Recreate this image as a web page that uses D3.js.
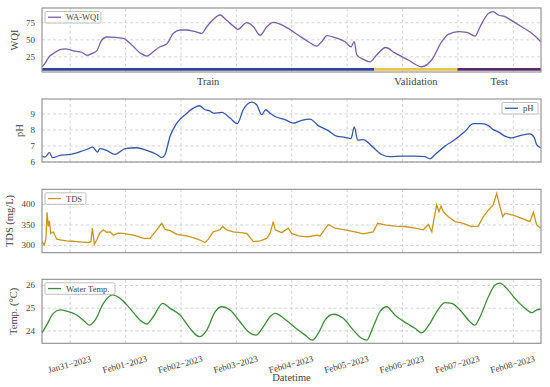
<!DOCTYPE html>
<html>
<head>
<meta charset="utf-8">
<script src="https://cdn.jsdelivr.net/npm/d3@7"></script>
<style>
  body { margin: 0; background: #fff; }
  svg { font-family: "Liberation Serif", "DejaVu Serif", serif; }
</style>
</head>
<body>
<svg id="chart" width="550" height="387"></svg>
<script>
// hours after 2023-01-30 12:00 UTC
const startTime = Date.UTC(2023, 0, 30, 12);

const wqiHours = [0, 1.3, 3.2, 4.9, 7.8, 10, 13.6, 17.2, 19.6, 21.5, 23.7, 25.9, 28, 31.6, 35.2, 38.9, 42.5, 45.4, 48.2, 51.1, 54, 56.9, 59.8, 62.7, 65.6, 69.2, 71.4, 74.2, 77.1, 80, 82.9, 84.8, 88.7, 91.6, 94.5, 97.4, 100.2, 106.7, 111, 115.4, 119, 121.2, 123.4, 127, 131.3, 133.9, 135.3, 136.4, 139.2, 142.1, 145, 148.9, 152.9, 158.7, 164.5, 168.8, 173.2, 176, 180.4, 184, 187.6, 189.8, 193.4, 195.5, 197.7, 200.6, 203.5, 207.8, 212.2, 216.1];
const wqiValues = [9.7, 14.7, 25, 29, 35, 36, 33, 31, 26.5, 29, 33, 49, 53.4, 53, 51.5, 41.6, 30, 25.4, 31.8, 39, 43, 58.8, 63.7, 63.7, 62, 58.8, 68.5, 79, 85.7, 78, 69.5, 64.7, 74.4, 68.5, 55.9, 68.5, 75, 66, 56.3, 46.5, 40, 46.5, 55.3, 52.4, 46.5, 39, 46.5, 27, 20.6, 17, 27, 38, 30, 19.6, 9.7, 19.6, 46.5, 57.3, 61.2, 60.3, 54.8, 68.5, 88, 90.6, 85.7, 83.2, 77.4, 68.5, 58.8, 46.5];

const phHours = [0, 1.3, 3.2, 4.6, 7.8, 12.1, 16.5, 19.4, 22, 24, 25.1, 28, 31.6, 36, 41, 45.4, 49.7, 51.9, 53.3, 55.5, 58.4, 62, 65.6, 68.2, 70.6, 72.5, 74.2, 77.9, 81.5, 84.6, 87.2, 90.9, 93, 95.2, 96.9, 98.8, 101, 105.3, 108.9, 112.5, 116.1, 119.7, 124, 127.7, 131.3, 133.9, 135.3, 136.8, 139.2, 142.9, 147.2, 150.8, 155.8, 161.6, 165.9, 168.1, 170.3, 174.6, 178.9, 183.3, 186.9, 190.5, 193.4, 195.5, 197.7, 200.6, 203.5, 207.8, 211.4, 213.3, 214.3, 216.1];
const phValues = [6.34, 6.28, 6.55, 6.24, 6.38, 6.44, 6.61, 6.75, 6.9, 6.59, 6.8, 6.69, 6.44, 6.8, 6.86, 6.69, 6.44, 6.24, 6.44, 7.58, 8.4, 8.92, 9.33, 9.48, 9.23, 9.17, 9.02, 9.06, 8.71, 8.36, 9.23, 9.7, 9.54, 8.92, 9.23, 9.02, 8.81, 8.61, 8.4, 8.57, 8.65, 8.24, 7.93, 7.58, 7.51, 7.43, 8.16, 7.33, 7.37, 6.96, 6.44, 6.3, 6.34, 6.34, 6.3, 6.17, 6.44, 6.96, 7.37, 7.89, 8.36, 8.36, 8.24, 7.99, 7.85, 7.58, 7.48, 7.64, 7.72, 7.48, 7.06, 6.86];

const tdsHours = [0, 1, 1.7, 2.2, 2.7, 3.2, 3.8, 4.9, 6.4, 8.5, 10.7, 13, 15, 17.5, 20.1, 21.2, 21.8, 22.7, 23.7, 25.1, 26.6, 28, 29.5, 30.9, 33, 35.2, 37.5, 39.6, 41.5, 43.9, 46.8, 49.7, 51.9, 53.3, 55.5, 58.4, 62.7, 65.5, 68.5, 70.6, 72.1, 74.2, 77.1, 78.3, 80, 82.9, 86, 88.7, 91.6, 94.5, 97.4, 98.8, 100.2, 101, 103.9, 106.7, 108.2, 111, 113, 115.4, 119, 120.5, 124, 127, 131.3, 135.6, 139.2, 143.5, 145.4, 148.6, 152.9, 157.3, 161.6, 165.2, 167.4, 168.9, 170, 171, 172, 172.9, 173.9, 176.1, 179, 181.8, 186.2, 189, 191.2, 193.4, 195.5, 197, 198, 199.6, 200.6, 204.2, 207.8, 211.4, 212.9, 214.3, 216.1];
const tdsValues = [308, 300, 316, 380, 345, 359, 328, 332, 314, 312, 310, 309, 308, 307, 306, 308, 341, 302, 312, 330, 337, 331, 332, 324, 329, 328, 326, 324, 321, 316, 316, 337, 353, 338, 335, 326, 322, 318, 312, 306, 314, 332, 337, 345, 337, 332, 330, 328, 308, 310, 316, 328, 357, 337, 330, 341, 328, 322, 321, 320, 324, 322, 350, 341, 337, 332, 327, 332, 353, 349, 346, 345, 341, 337, 350, 332, 369, 398, 381, 395, 381, 369, 357, 354, 345, 346, 369, 385, 398, 426, 402, 369, 377, 373, 365, 357, 380, 349, 341];

const tempHours = [0, 2, 4.9, 7.8, 10.7, 15, 18.6, 20.5, 23, 26.6, 30.6, 33.8, 38.1, 42.5, 45.4, 48.2, 52.3, 55.5, 59.8, 64.1, 68.2, 71.4, 75, 77.9, 81.5, 85.8, 89.4, 92.7, 95.9, 98.8, 101, 105.3, 109.6, 114, 117.1, 119.7, 122.6, 126.2, 130.5, 134.9, 138.5, 140.7, 143.5, 146.4, 149.3, 152.9, 158, 161.6, 164.5, 168.1, 171, 174.6, 177.5, 181.1, 185.4, 187.6, 189.8, 193.4, 196.3, 198.4, 201.3, 204.9, 209.3, 212.2, 214.3, 216.1];
const tempValues = [23.89, 24.23, 24.75, 24.9, 24.85, 24.68, 24.38, 24.23, 24.45, 25.19, 25.56, 25.41, 24.97, 24.45, 24.28, 24.6, 25.19, 24.97, 24.68, 24.09, 23.72, 24.01, 24.82, 25.04, 24.9, 24.38, 23.94, 23.79, 24.16, 24.6, 24.75, 24.49, 24.13, 23.79, 23.57, 23.87, 24.45, 24.71, 24.53, 24.01, 23.65, 23.57, 24.16, 24.82, 25.04, 24.68, 24.31, 24.09, 23.89, 24.31, 24.82, 25.22, 25.19, 24.9, 24.38, 24.23, 24.6, 25.48, 26, 26.08, 25.85, 25.41, 24.97, 24.78, 24.9, 24.93];

// train / validation / test split (hours)
const splitNames = ["Train", "Validation", "Test"];
const splitStart = [0, 144, 180];
const splitEnd = [144, 180, 216.2];
const splitColors = ["#2f45a0", "#e7c646", "#5b2a6d"];

const wqiTicks = [25, 50, 75];
const phTicks = [6, 7, 8, 9];
const tdsTicks = [300, 350, 400];
const tempTicks = [24, 25, 26];

const toDate = h => new Date(startTime + h * 3600e3);

const svg = d3.select('#chart');
const left = 42, right = 541;

const x = d3.scaleUtc()
    .domain([toDate(0), toDate(216.2)])
    .range([left, right]);

const dayTicks = d3.utcDay.range(new Date(Date.UTC(2023, 0, 31)), new Date(Date.UTC(2023, 1, 9)));

const panels = [
    { top: 8, bottom: 72, domain: [2, 96], ticks: wqiTicks, hours: wqiHours, values: wqiValues,
      color: '#7a5ea8', label: 'WQI', labelX: 16, legend: 'WA-WQI', legendSide: 'left', legendW: 56, curve: d3.curveMonotoneX },
    { top: 99, bottom: 162, domain: [5.97, 9.9], ticks: phTicks, hours: phHours, values: phValues,
      color: '#3656a8', label: 'pH', labelX: 21, legend: 'pH', legendSide: 'right', legendW: 36, curve: d3.curveMonotoneX },
    { top: 189.3, bottom: 252.7, domain: [281, 436], ticks: tdsTicks, hours: tdsHours, values: tdsValues,
      color: '#c8961f', label: 'TDS (mg/L)', labelX: 11, legend: 'TDS', legendSide: 'left', legendW: 41, curve: d3.curveLinear },
    { top: 279.3, bottom: 343.3, domain: [23.43, 26.25], ticks: tempTicks, hours: tempHours, values: tempValues,
      color: '#3f8a3a', label: 'Temp. (°C)', labelX: 15, legend: 'Water Temp.', legendSide: 'left', legendW: 70, curve: d3.curveMonotoneX },
];

panels.forEach((p, i) => {
    const y = d3.scaleLinear().domain(p.domain).range([p.bottom, p.top]);
    const g = svg.append('g');

    // grid
    g.append('g')
        .attr('transform', `translate(0,${p.bottom})`)
        .call(d3.axisBottom(x).tickValues(dayTicks).tickSize(-(p.bottom - p.top)).tickFormat(''))
        .call(s => s.select('.domain').remove())
        .selectAll('line')
        .attr('stroke', '#c9c9c9').attr('stroke-width', 0.8).attr('stroke-dasharray', '3,2.5');

    g.append('g')
        .attr('transform', `translate(${left},0)`)
        .call(d3.axisLeft(y).tickValues(p.ticks).tickFormat(d3.format('d')).tickSize(-(right - left)).tickPadding(7))
        .call(s => s.select('.domain').remove())
        .call(s => s.selectAll('line').attr('stroke', '#c9c9c9').attr('stroke-width', 0.8).attr('stroke-dasharray', '3,2.5'))
        .selectAll('text')
        .attr('font-size', 9).attr('fill', '#444')
        .style('font-family', '"Liberation Serif", serif');

    // split bars on the first panel
    if (i === 0) {
        splitNames.forEach((name, k) => {
            g.append('line')
                .attr('x1', x(toDate(splitStart[k]))).attr('x2', x(toDate(splitEnd[k])))
                .attr('y1', y(5.8)).attr('y2', y(5.8))
                .attr('stroke', splitColors[k]).attr('stroke-width', 2.7);
            g.append('text')
                .attr('x', x(toDate((splitStart[k] + splitEnd[k]) / 2)))
                .attr('y', p.bottom + 13)
                .attr('text-anchor', 'middle')
                .attr('font-size', 10.5).attr('fill', '#444')
                .text(name);
        });
    }

    // series
    const line = d3.line()
        .x((d, k) => x(toDate(p.hours[k])))
        .y(d => y(d))
        .curve(p.curve);
    g.append('path')
        .datum(p.values)
        .attr('d', line)
        .attr('fill', 'none')
        .attr('stroke', p.color)
        .attr('stroke-width', 1.3);

    // frame
    g.append('rect')
        .attr('x', left).attr('y', p.top)
        .attr('width', right - left).attr('height', p.bottom - p.top)
        .attr('fill', 'none').attr('stroke', '#8c8c8c').attr('stroke-width', 1.1);

    // y label
    g.append('text')
        .attr('transform', `translate(${p.labelX},${(p.top + p.bottom) / 2}) rotate(-90)`)
        .attr('text-anchor', 'middle')
        .attr('dominant-baseline', 'middle')
        .attr('font-size', 10.5).attr('fill', '#444')
        .text(p.label);

    // legend
    const lx = p.legendSide === 'left' ? left + 3 : right - 3 - p.legendW;
    const ly = p.top + 3.5;
    const lg = g.append('g').attr('transform', `translate(${lx},${ly})`);
    lg.append('rect')
        .attr('width', p.legendW).attr('height', 11.5).attr('rx', 1.5)
        .attr('fill', 'white').attr('fill-opacity', 0.85)
        .attr('stroke', '#b8b8b8').attr('stroke-width', 0.9);
    lg.append('line')
        .attr('x1', 3).attr('x2', 16).attr('y1', 5.75).attr('y2', 5.75)
        .attr('stroke', p.color).attr('stroke-width', 1.3);
    lg.append('text')
        .attr('x', 21).attr('y', 8.8)
        .attr('font-size', 8.5).attr('fill', '#444')
        .text(p.legend);

    // date labels on the last panel
    if (i === panels.length - 1) {
        const fmt = d3.utcFormat('%b%d\u2212%Y');
        svg.append('g').selectAll('text')
            .data(dayTicks)
            .enter()
            .append('text')
            .attr('transform', d => `translate(${x(d)},${p.bottom + 22}) rotate(-15)`)
            .attr('text-anchor', 'middle')
            .attr('dominant-baseline', 'middle')
            .attr('font-size', 9).attr('fill', '#444')
            .text(d => fmt(d));
        svg.append('text')
            .attr('x', (left + right) / 2).attr('y', 381)
            .attr('text-anchor', 'middle')
            .attr('font-size', 10.5).attr('fill', '#444')
            .text('Datetime');
    }
});
</script>
</body>
</html>
